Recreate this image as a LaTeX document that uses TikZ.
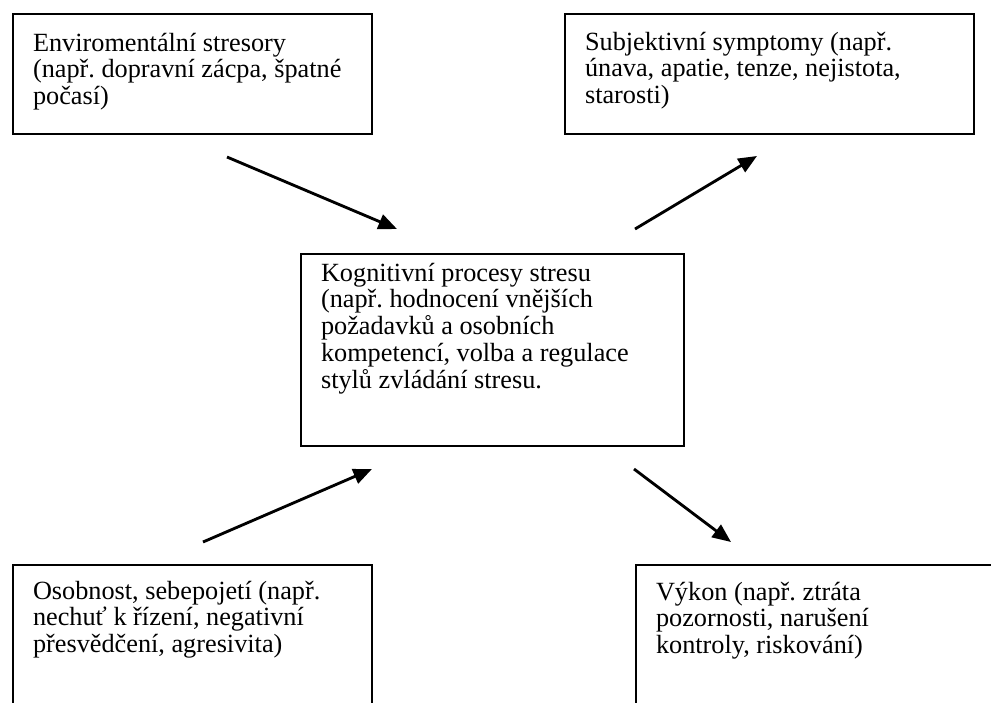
\documentclass[tikz,border=0pt]{standalone}
\usepackage{fontspec}
\setmainfont{Liberation Serif}
\usepackage{tikz}
\usetikzlibrary{arrows.meta}
\newlength\px
\setlength\px{0.457pt}
\frenchspacing

\begin{document}
\begin{tikzpicture}[x=1\px,y=-1\px,
  box/.style={draw, line width=0.95pt, anchor=north west, inner xsep=20\px, inner ysep=0pt,
    font=\fontsize{12pt}{12.3pt}\selectfont},
  pfeil/.style={-{Triangle[length=8.5pt,width=7pt]}, line width=1.3pt}]
\useasboundingbox (0,0) rectangle (991,702);
\node[box, text height=37\px, text depth=83\px] (env) at (12,13)
  {\parbox[t]{319\px}{Enviromentální stresory\\(např. dopravní zácpa, špatné\\počasí)}};
\node[box, text height=36\px, text depth=84\px] (symp) at (564,13)
  {\parbox[t]{369\px}{Subjektivní symptomy (např.\\únava, apatie, tenze, nejistota,\\starosti)}};
\node[box, text height=27\px, text depth=165\px] (kog) at (300,253)
  {\parbox[t]{343\px}{Kognitivní procesy stresu\\(např. hodnocení vnějších\\požadavků a osobních\\kompetencí, volba a regulace\\stylů zvládání stresu.}};
\node[box, text height=34\px, text depth=200\px] (osob) at (12,564)
  {\parbox[t]{319\px}{Osobnost, sebepojetí (např.\\nechuť k řízení, negativní\\přesvědčení, agresivita)}};
\node[box, text height=35\px, text depth=200\px] (vykon) at (635,564)
  {\parbox[t]{380\px}{Výkon (např. ztráta\\pozornosti, narušení\\kontroly, riskování)}};
\coordinate (envA) at (227,157);
\coordinate (envB) at (397,229);
\coordinate (sympA) at (635,229);
\coordinate (sympB) at (757,156);
\coordinate (osobA) at (203,542);
\coordinate (osobB) at (372,469);
\coordinate (vykonA) at (634,469);
\coordinate (vykonB) at (731,542);
\draw[pfeil] (envA) -- (envB);
\draw[pfeil] (sympA) -- (sympB);
\draw[pfeil] (osobA) -- (osobB);
\draw[pfeil] (vykonA) -- (vykonB);
\end{tikzpicture}
\end{document}
